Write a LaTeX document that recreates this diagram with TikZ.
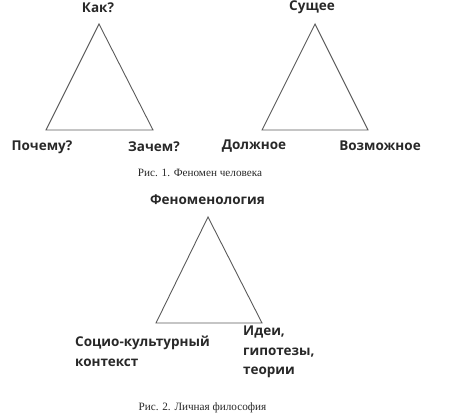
\documentclass[tikz,border=0pt]{standalone}
\usepackage{fontspec}
\setmainfont{Liberation Serif}
\setsansfont{Open Sans}
\usepackage{xcolor}
\usepackage{tikz}
\usetikzlibrary{positioning}
\definecolor{txtGray}{RGB}{40, 40, 40}
\definecolor{lineGray}{RGB}{90, 90, 90}

\begin{document}
\begin{tikzpicture}[
    x=1pt, y=-1pt,
    lbl/.style={font=\fontsize{13.5}{19.3}\selectfont\sffamily\bfseries, text=txtGray, inner sep=0pt, align=left},
    figcap/.style={font=\fontsize{11.2}{13}\selectfont\rmfamily, text=txtGray, inner sep=0pt},
    tri/.style={line width=0.9pt, lineGray, line join=miter}
]
\useasboundingbox (0,0) rectangle (450,415);

% Fig. 1, left
\coordinate (t1) at (99,24);
\coordinate (l1) at (46,130);
\coordinate (r1) at (153,130);
\node[lbl] (kak)    at (98,8)    {Как?};
\node[lbl] (pochem) at (42,147)  {Почему?};
\node[lbl] (zachem) at (154,147) {Зачем?};

% Fig. 1, right
\coordinate (t2) at (315,24);
\coordinate (l2) at (262,130);
\coordinate (r2) at (368,130);
\node[lbl] (sush)   at (312,7)   {Сущее};
\node[lbl] (dolzh)  at (254,146) {Должное};
\node[lbl] (vozm)   at (380,146) {Возможное};

\node[figcap] (cap1) at (200,173) {Рис. 1. Феномен человека};

% Fig. 2
\coordinate (t3) at (208,217);
\coordinate (l3) at (156,323);
\coordinate (r3) at (262,323);
\node[lbl] (fenom)  at (207.5,200) {Феноменология};
\node[lbl, anchor=north west] (soc)  at (75,336)  {Социо-культурный\\контекст};
\node[lbl, anchor=north west] (idei) at (243,326) {Идеи,\\гипотезы,\\теории};

\node[figcap] (cap2) at (202.5,408) {Рис. 2. Личная философия};

\foreach \i in {1,2,3}
    \draw[tri] (t\i) -- (l\i) -- (r\i) -- cycle;
\end{tikzpicture}
\end{document}
